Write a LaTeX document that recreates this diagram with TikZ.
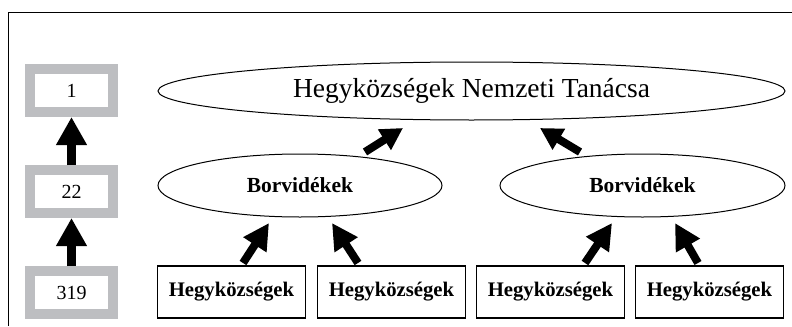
\documentclass[tikz,border=0pt]{standalone}
\usepackage{fontspec}
\setmainfont{Liberation Serif}
\usetikzlibrary{arrows.meta,shapes.geometric}
\definecolor{boxgray}{RGB}{189,190,193}
\tikzset{
  graybox/.style={draw=boxgray,line width=10bp,fill=white,minimum width=83bp,minimum height=43bp,inner sep=0pt,font=\fontsize{20bp}{24bp}\selectfont},
  ell/.style={draw,ellipse,line width=1bp,inner sep=0pt},
  hbox/.style={draw,line width=1.2bp,minimum width=148bp,minimum height=52bp,inner sep=0pt,font=\fontsize{20.7bp}{24bp}\selectfont\bfseries},
  bigarr/.style={line width=9bp,-{Triangle[length=28bp,width=29bp]}},
  toparr/.style={line width=8bp,-{Triangle[length=22bp,width=23bp]}},
  botarr/.style={line width=8bp,-{Triangle[length=26bp,width=26bp]}}
}
\begin{document}
\begin{tikzpicture}[x=1bp,y=1bp]
\useasboundingbox (0,0) rectangle (792,326);
\draw[line width=0.9bp] (8,0) -- (8,314) -- (792,314);
% left column
\node[graybox] (n1) at (71.5,235.5) {1};
\node[graybox] (n22) at (71.5,134.5) {22};
\node[graybox] (n319) at (71.5,33.5) {319};
\draw[bigarr] (n22.north) -- (n1.south);
\draw[bigarr] (n319.north) -- (n22.south);
% top ellipse
\node[ell,minimum width=627bp,minimum height=58bp,font=\fontsize{27.5bp}{32bp}\selectfont] (top) at (471.5,235) {Hegyközségek Nemzeti Tanácsa};
% middle ellipses
\node[ell,minimum width=284bp,minimum height=63bp,font=\fontsize{21.5bp}{24bp}\selectfont\bfseries] (bl) at (300,140.5) {Borvidékek};
\node[ell,minimum width=285bp,minimum height=63bp,font=\fontsize{21.5bp}{24bp}\selectfont\bfseries] (br) at (642.5,140.5) {Borvidékek};
% bottom boxes
\node[hbox] (h1) at (231.5,34) {Hegyközségek};
\node[hbox] (h2) at (391.5,34) {Hegyközségek};
\node[hbox] (h3) at (550.5,34) {Hegyközségek};
\node[hbox] (h4) at (709.5,34) {Hegyközségek};
% arrows to top
\draw[toparr] ([shift={(65,33.5)}]bl.center) -- ([shift={(-68.5,-37)}]top.center);
\draw[toparr] ([shift={(-62.5,33.5)}]br.center) -- ([shift={(68.5,-37)}]top.center);
% arrows to middle
\draw[botarr] ([shift={(11.5,29)}]h1.center) -- ([shift={(-31,-37.5)}]bl.center);
\draw[botarr] ([shift={(-33.5,29)}]h2.center) -- ([shift={(32,-37.5)}]bl.center);
\draw[botarr] ([shift={(34.5,29)}]h3.center) -- ([shift={(-30.5,-37.5)}]br.center);
\draw[botarr] ([shift={(-11.5,29)}]h4.center) -- ([shift={(32.5,-37.5)}]br.center);
\end{tikzpicture}
\end{document}
